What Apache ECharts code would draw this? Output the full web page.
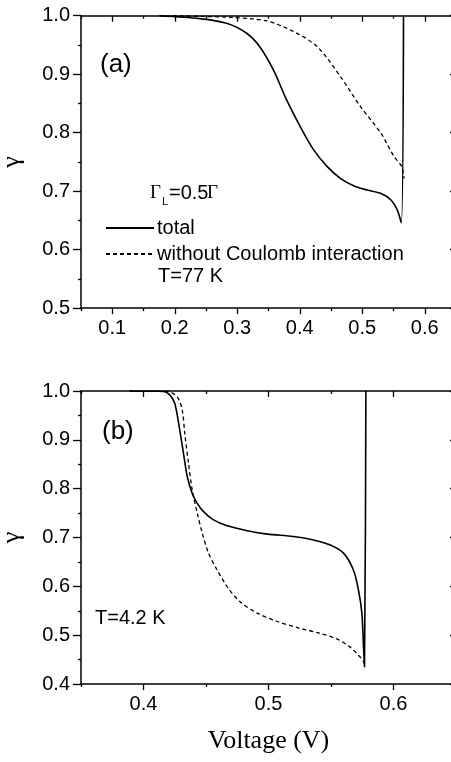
<!DOCTYPE html>
<html>
<head>
<meta charset="utf-8">
<script src="https://cdn.jsdelivr.net/npm/echarts@6/dist/echarts.min.js"></script>
<style>
html,body{margin:0;padding:0;background:#fff;}
#c{width:451px;height:762px;}
</style>
</head>
<body>
<div id="c"></div>
<script>
// ---------- Panel (a): T = 77 K ----------
const voltA_total = [0.175, 0.24, 0.283, 0.315, 0.336, 0.358, 0.379, 0.401, 0.422, 0.444, 0.465, 0.487, 0.508, 0.530, 0.546, 0.556, 0.5625, 0.566];
const gammaA_total = [1.0, 0.995, 0.987, 0.970, 0.947, 0.907, 0.856, 0.810, 0.771, 0.742, 0.722, 0.709, 0.702, 0.696, 0.685, 0.668, 0.646, 1.0];
const voltA_noC = [0.197, 0.293, 0.347, 0.390, 0.428, 0.465, 0.497, 0.530, 0.551, 0.5635, 0.5655, 0.567];
const gammaA_noC = [1.0, 0.997, 0.991, 0.973, 0.947, 0.896, 0.845, 0.799, 0.759, 0.742, 0.730, 0.722];

// ---------- Panel (b): T = 4.2 K ----------
const voltB_total = [0.389, 0.416, 0.421, 0.425, 0.429, 0.432, 0.435, 0.439, 0.443, 0.448, 0.456, 0.467, 0.483, 0.499, 0.520, 0.536, 0.549, 0.560, 0.568, 0.572, 0.5747, 0.576, 0.5768, 0.5779];
const gammaB_total = [1.0, 0.999, 0.992, 0.975, 0.920, 0.872, 0.825, 0.790, 0.770, 0.753, 0.736, 0.724, 0.714, 0.707, 0.702, 0.695, 0.685, 0.668, 0.633, 0.592, 0.545, 0.476, 0.435, 1.0];
const voltB_noC = [0.389, 0.419, 0.427, 0.431, 0.433, 0.436, 0.439, 0.443, 0.447, 0.452, 0.459, 0.467, 0.477, 0.491, 0.507, 0.525, 0.541, 0.555, 0.565, 0.572, 0.576, 0.577];
const gammaB_noC = [1.0, 0.999, 0.988, 0.961, 0.913, 0.852, 0.797, 0.750, 0.709, 0.668, 0.633, 0.599, 0.569, 0.545, 0.528, 0.514, 0.504, 0.492, 0.476, 0.459, 0.446, 0.435];

// ---------- Tick values ----------
const xMajorA = [0.1, 0.2, 0.3, 0.4, 0.5, 0.6];
const xMinorA = [0.05, 0.15, 0.25, 0.35, 0.45, 0.55, 0.65];
const yMajorA = [0.5, 0.6, 0.7, 0.8, 0.9, 1.0];
const yMinorA = [0.55, 0.65, 0.75, 0.85, 0.95];
const xMajorB = [0.4, 0.5, 0.6];
const xMinorB = [0.35, 0.45, 0.55, 0.65];
const yMajorB = [0.4, 0.5, 0.6, 0.7, 0.8, 0.9, 1.0];
const yMinorB = [0.45, 0.55, 0.65, 0.75, 0.85, 0.95];

const seriesNames = ['total', 'without Coulomb interaction'];
const yName = 'γ';
const xName = 'Voltage (V)';

const zip = (a, b) => a.map((v, i) => [v, b[i]]);
const FONT = 'Liberation Sans, Arial, sans-serif';
const lbl = { fontFamily: FONT, fontSize: 20, color: '#000' };

function xAxes(grid, min, max, major, minor, withName) {
  const base = { type: 'value', gridIndex: grid, min: min, max: max, splitLine: { show: false } };
  return [
    Object.assign({}, base, {
      position: 'bottom',
      axisLine: { show: true, lineStyle: { color: '#000', width: 1.5 } },
      axisTick: { show: true, customValues: major, length: 6, lineStyle: { color: '#000', width: 1.3 } },
      axisLabel: Object.assign({ show: true, customValues: major, margin: 10, formatter: v => v.toFixed(1) }, lbl),
      name: withName ? xName : '',
      nameLocation: 'middle', nameGap: 44,
      nameTextStyle: { fontFamily: 'Liberation Serif, Times New Roman, serif', fontSize: 26, color: '#000' }
    }),
    Object.assign({}, base, {
      position: 'bottom',
      axisLine: { show: false },
      axisTick: { show: true, customValues: minor, length: 3, lineStyle: { color: '#000', width: 1.3 } },
      axisLabel: { show: false }
    }),
    Object.assign({}, base, {
      position: 'top',
      axisLine: { show: true, lineStyle: { color: '#000', width: 1.5 } },
      axisTick: { show: true, inside: true, customValues: major, length: 6, lineStyle: { color: '#000', width: 1.3 } },
      axisLabel: { show: false }
    }),
    Object.assign({}, base, {
      position: 'top',
      axisLine: { show: false },
      axisTick: { show: true, inside: true, customValues: minor, length: 3, lineStyle: { color: '#000', width: 1.3 } },
      axisLabel: { show: false }
    })
  ];
}
function yAxes(grid, min, max, major, minor) {
  const base = { type: 'value', gridIndex: grid, min: min, max: max, splitLine: { show: false } };
  return [
    Object.assign({}, base, {
      position: 'left',
      axisLine: { show: true, lineStyle: { color: '#000', width: 1.5 } },
      axisTick: { show: true, customValues: major, length: 8, lineStyle: { color: '#000', width: 1.3 } },
      axisLabel: Object.assign({ show: true, customValues: major, margin: 11, formatter: v => v.toFixed(1) }, lbl),
      name: yName, nameLocation: 'middle', nameGap: 56, nameRotate: 90,
      nameTextStyle: { fontFamily: 'Liberation Serif, Times New Roman, serif', fontSize: 26, color: '#000' }
    }),
    Object.assign({}, base, {
      position: 'left',
      axisLine: { show: false },
      axisTick: { show: true, customValues: minor, length: 3, lineStyle: { color: '#000', width: 1.3 } },
      axisLabel: { show: false }
    }),
    Object.assign({}, base, {
      position: 'right',
      axisLine: { show: true, lineStyle: { color: '#000', width: 1.5 } },
      axisTick: { show: true, inside: true, customValues: major, length: 6, lineStyle: { color: '#000', width: 1.3 } },
      axisLabel: { show: false }
    }),
    Object.assign({}, base, {
      position: 'right',
      axisLine: { show: false },
      axisTick: { show: true, inside: true, customValues: minor, length: 3, lineStyle: { color: '#000', width: 1.3 } },
      axisLabel: { show: false }
    })
  ];
}

const solid = { color: '#000', width: 1.6, type: 'solid' };
const dashed = { color: '#000', width: 1.3, type: [4, 3] };
function line(name, data, xi, yi, style) {
  return {
    type: 'line', name: name, data: data, xAxisIndex: xi, yAxisIndex: yi,
    showSymbol: false, symbol: 'none', smooth: 0.3, lineStyle: style, itemStyle: { color: '#000' },
    animation: false, z: 3
  };
}

const chart = echarts.init(document.getElementById('c'), null, { renderer: 'canvas' });
chart.setOption({
  backgroundColor: '#fff',
  animation: false,
  grid: [
    { left: 81, top: 15.7, width: 375, height: 292.5, outerBoundsMode: 'none', containLabel: false },
    { left: 81, top: 391, width: 375, height: 293, outerBoundsMode: 'none', containLabel: false }
  ],
  xAxis: xAxes(0, 0.05, 0.65, xMajorA, xMinorA, false).concat(xAxes(1, 0.35, 0.65, xMajorB, xMinorB, true)),
  yAxis: yAxes(0, 0.5, 1.0, yMajorA, yMinorA).concat(yAxes(1, 0.4, 1.0, yMajorB, yMinorB)),
  legend: {
    data: seriesNames,
    orient: 'vertical', left: 100, top: 213, itemWidth: 48, itemHeight: 14, itemGap: 6,
    textStyle: { fontFamily: FONT, fontSize: 20, color: '#000', padding: [0, 0, 0, -2] },
    itemStyle: { opacity: 0 },
    selectedMode: false
  },
  series: [
    line(seriesNames[0], zip(voltA_total, gammaA_total), 0, 0, solid),
    line(seriesNames[1], zip(voltA_noC, gammaA_noC), 0, 0, dashed),
    line(seriesNames[0], zip(voltB_total, gammaB_total), 4, 4, solid),
    line(seriesNames[1], zip(voltB_noC, gammaB_noC), 4, 4, dashed)
  ],
  graphic: [
    { type: 'text', left: 100, top: 52, style: { text: '(a)', font: '26px ' + FONT, fill: '#000' } },
    { type: 'text', left: 102, top: 419, style: { text: '(b)', font: '26px ' + FONT, fill: '#000' } },
    { type: 'text', left: 150, top: 184, style: { text: 'Γ', font: '19px Liberation Serif, serif', fill: '#000' } },
    { type: 'text', left: 162, top: 196, style: { text: 'L', font: '11px ' + FONT, fill: '#000' } },
    { type: 'text', left: 169, top: 183, style: { text: '=0.5', font: '20px ' + FONT, fill: '#000' } },
    { type: 'text', left: 207, top: 184, style: { text: 'Γ', font: '19px Liberation Serif, serif', fill: '#000' } },
    { type: 'text', left: 158, top: 266, style: { text: 'T=77 K', font: '20px ' + FONT, fill: '#000' } },
    { type: 'text', left: 95, top: 608, style: { text: 'T=4.2 K', font: '20px ' + FONT, fill: '#000' } }
  ]
});
</script>
</body>
</html>
